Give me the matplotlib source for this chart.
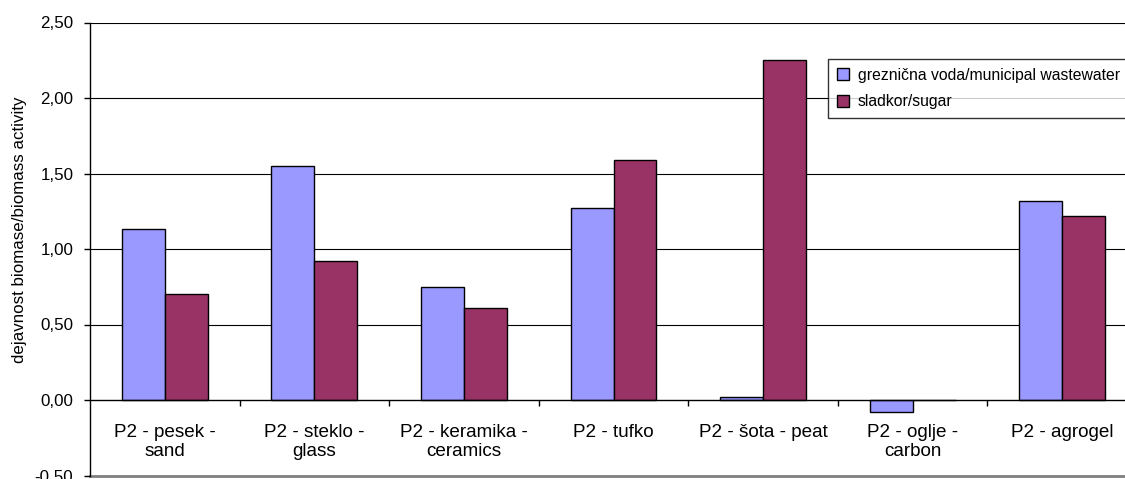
import matplotlib
matplotlib.use("Agg")
import matplotlib.pyplot as plt
import numpy as np
from matplotlib.ticker import FixedLocator, FuncFormatter

plt.rcParams['font.family'] = ['Liberation Sans', 'DejaVu Sans']

categories = ["P2 - pesek -\nsand", "P2 - steklo -\nglass", "P2 - keramika -\nceramics",
              "P2 - tufko", "P2 - šota - peat", "P2 - oglje -\ncarbon", "P2 - agrogel"]
wastewater = [1.13, 1.55, 0.75, 1.27, 0.02, -0.08, 1.32]
sugar = [0.70, 0.92, 0.61, 1.59, 2.25, 0.0, 1.22]
series_names = ["greznična voda/municipal wastewater", "sladkor/sugar"]
yticks = [-0.5, 0.0, 0.5, 1.0, 1.5, 2.0, 2.5]

W, H = 1125, 479
fig = plt.figure(figsize=(W / 100, H / 100), dpi=100)
left, right, top, bottom = 90, 1137, 22.5, 475.5
ax = fig.add_axes([left / W, 1 - bottom / H, (right - left) / W, (bottom - top) / H])

x = np.arange(len(categories))
bw = 0.287
ax.bar(x - bw / 2, wastewater, bw, color='#9999FF', edgecolor='black', linewidth=1.0,
       label=series_names[0], zorder=3)
ax.bar(x + bw / 2, sugar, bw, color='#993366', edgecolor='black', linewidth=1.0,
       label=series_names[1], zorder=3)

ax.set_xlim(-0.5, len(categories) - 0.5)
ax.set_ylim(-0.5, 2.5)

for yv in yticks:
    if yv == 0:
        continue
    if yv == -0.5:
        ax.axhline(yv, color='#808080', linewidth=2.0, zorder=1, clip_on=False)
    else:
        ax.axhline(yv, color='black', linewidth=0.8, zorder=1)

ax.spines['top'].set_visible(False)
ax.spines['right'].set_visible(False)
ax.spines['bottom'].set_position(('data', 0))
ax.spines['bottom'].set_linewidth(1.0)
ax.spines['bottom'].set_zorder(4)
ax.spines['left'].set_linewidth(1.0)

ax.set_yticks(yticks)
ax.yaxis.set_major_formatter(FuncFormatter(lambda v, p: f"{v:.2f}".replace('.', ',')))
ax.tick_params(axis='y', direction='out', length=4, width=1, labelsize=12.2, pad=8)

ax.set_xticks(x)
ax.set_xticklabels(categories)
ax.xaxis.set_minor_locator(FixedLocator(np.arange(0.5, len(categories) - 0.5, 1)))
ax.tick_params(axis='x', which='major', length=0, labelsize=13.6, pad=17)
ax.tick_params(axis='x', which='minor', direction='out', length=4, width=1)

fig.text(20 / W, 1 - 230 / H, "dejavnost biomase/biomass activity", rotation=90,
         ha='center', va='center', fontsize=12.2)

leg = ax.legend(loc='upper left', bbox_to_anchor=(828 / W, 1 - 59 / H),
                bbox_transform=fig.transFigure, borderaxespad=0, fancybox=False,
                frameon=True, edgecolor='black', fontsize=11.3, handlelength=0.76,
                handleheight=0.76, handletextpad=0.6, labelspacing=0.75, borderpad=0.55)
leg.get_frame().set_linewidth(1.0)

fig.savefig("out.png", dpi=100)
